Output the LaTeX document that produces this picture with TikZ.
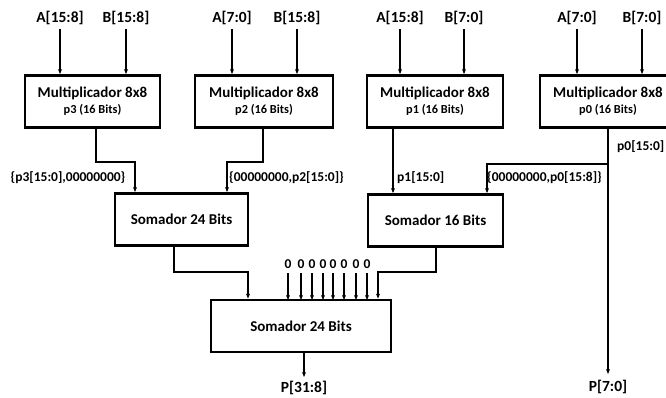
\documentclass[tikz,border=0pt]{standalone}
\usepackage{fontspec}
\setmainfont{Carlito}
\usetikzlibrary{arrows.meta}
\tikzset{
  blk/.style={draw, line width=2.8pt, minimum height=52pt, inner sep=0pt},
  arr/.style={line width=1.1pt, -{Stealth[length=5pt,width=4pt]}},
  wire/.style={line width=1.1pt},
  inlab/.style={font=\fontsize{15.5}{16}\selectfont\bfseries, inner sep=0pt},
  elab/.style={font=\fontsize{13.5}{15}\selectfont\bfseries, inner sep=0pt},
  zlab/.style={font=\fontsize{13.5}{14}\selectfont\bfseries, inner sep=0pt},
}
\newcommand{\mult}[2]{{\fontsize{15}{17}\selectfont\bfseries #1}\\[4pt]{\fontsize{12.3}{13}\selectfont\bfseries #2}}
\begin{document}
\begin{tikzpicture}[x=1pt,y=-1pt]
\useasboundingbox (0,0) rectangle (666,398);
% multipliers
\node[blk, minimum width=135pt, align=center] (p3) at (92.5,101.5) {\mult{Multiplicador 8x8}{p3 (16 Bits)}};
\node[blk, minimum width=138pt, align=center] (p2) at (264,101.5) {\mult{Multiplicador 8x8}{p2 (16 Bits)}};
\node[blk, minimum width=136pt, align=center] (p1) at (435,101.5) {\mult{Multiplicador 8x8}{p1 (16 Bits)}};
\node[blk, minimum width=136pt, align=center] (p0) at (608,101.5) {\mult{Multiplicador 8x8}{p0 (16 Bits)}};
% adders
\node[blk, minimum width=133pt, font=\fontsize{15}{17}\selectfont\bfseries] (s1) at (181.5,219.5) {Somador 24 Bits};
\node[blk, minimum width=135pt, font=\fontsize{15}{17}\selectfont\bfseries] (s2) at (435.5,220.5) {Somador 16 Bits};
\node[blk, minimum width=180pt, font=\fontsize{15}{17}\selectfont\bfseries] (s3) at (301,326) {Somador 24 Bits};
% input labels
\node[inlab] (a3) at (60,18) {A[15:8]};
\node[inlab] (b3) at (126,18) {B[15:8]};
\node[inlab] (a2) at (232,18) {A[7:0]};
\node[inlab] (b2) at (297,18) {B[15:8]};
\node[inlab] (a1) at (400,18) {A[15:8]};
\node[inlab] (b1) at (464,18) {B[7:0]};
\node[inlab] (a0) at (577,18) {A[7:0]};
\node[inlab] (b0) at (642,18) {B[7:0]};
\foreach \l/\m in {a3/p3,b3/p3,a2/p2,b2/p2,a1/p1,b1/p1,a0/p0,b0/p0}
  \draw[arr] ([yshift=-4pt]\l.south) -- (\l.south |- \m.north);
% coordinates for routing
\coordinate (c3a) at (96,162);
\coordinate (c3b) at (135,162);
\coordinate (c2a) at (263,162);
\coordinate (c2b) at (227,162);
\coordinate (c1) at (393,128);
\coordinate (c0) at (608,164);
\coordinate (c0b) at (487,164);
\coordinate (e0) at (608,374);
\coordinate (o1a) at (174,272);
\coordinate (o1b) at (248,272);
\coordinate (o2a) at (436,272);
\coordinate (o2b) at (378,272);
% p -> s
\draw[arr] (c3a |- p3.south) -- (c3a) -- (c3b) -- (c3b |- s1.north);
\draw[arr] (c2a |- p2.south) -- (c2a) -- (c2b) -- (c2b |- s1.north);
\draw[arr] (c1 |- p1.south) -- (c1 |- s2.north);
\draw[arr] (p0.south) -- (e0);
\draw[arr] (c0) -- (c0b) -- (c0b |- s2.north);
% s1, s2 -> s3
\draw[arr] (o1a |- s1.south) -- (o1a) -- (o1b) -- (o1b |- s3.north);
\draw[arr] (o2a |- s2.south) -- (o2a) -- (o2b) -- (o2b |- s3.north);
% zeros
\foreach \x [count=\i] in {288,301,312,323,333,344,356,367} {
  \node[zlab] (z\i) at (\x,264) {0};
  \draw[arr] (\x,273) -- (\x,300) coordinate (zz\i);
}
% edge labels
\node[elab] (l3) at (68,178) {\{p3[15:0],00000000\}};
\node[elab, anchor=west] (l2) at (229,178) {\{00000000,p2[15:0]\}};
\node[elab, anchor=west] (l1) at (397,178) {p1[15:0]};
\node[elab, anchor=west] (l0) at (487,178) {\{00000000,p0[15:8]\}};
\node[elab, anchor=west] (l00) at (617,147) {p0[15:0]};
% outputs
\node[inlab] (o31) at (304,388) {P[31:8]};
\node[inlab] (o7) at (608,387) {P[7:0]};
\draw[arr] (s3.south -| o31) -- ([yshift=4pt]o31.north);
\end{tikzpicture}
\end{document}
